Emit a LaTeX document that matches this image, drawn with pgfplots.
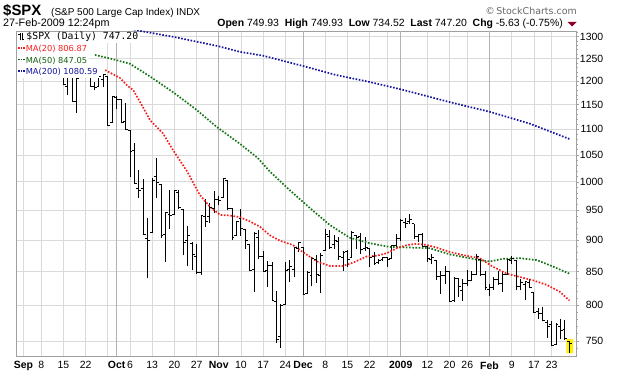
\documentclass[border=0pt]{standalone}
\usepackage{pgfplots}
\pgfplotsset{compat=1.18}
\usepackage{pgfplotstable}
\usepackage{fontspec}
\setmainfont{Liberation Sans}
\newfontfamily\legfont{DejaVu Sans}
\newfontfamily\legmono{DejaVu Sans Mono}

\definecolor{gridc}{RGB}{218,218,218}
\definecolor{monthc}{RGB}{178,178,178}
\definecolor{framec}{RGB}{160,160,160}
\definecolor{ma20}{RGB}{245,30,30}
\definecolor{ma50}{RGB}{20,115,20}
\definecolor{ma200}{RGB}{20,20,160}
\definecolor{chgc}{RGB}{140,0,40}
\definecolor{hl}{RGB}{255,240,0}

\pgfdeclareplotmark{otick}{\pgfpathmoveto{\pgfpoint{-2.4bp}{0bp}}\pgfpathlineto{\pgfpoint{0.45bp}{0bp}}\pgfusepathqstroke}
\pgfdeclareplotmark{ctick}{\pgfpathmoveto{\pgfpoint{-0.45bp}{0bp}}\pgfpathlineto{\pgfpoint{2.4bp}{0bp}}\pgfusepathqstroke}

% day index: 0 = 2 Sep 2008 ... 123 = 27 Feb 2009
\pgfplotstableread{
d o h l c
0 1287.83 1303.04 1272.20 1277.58
1 1276.61 1280.60 1265.59 1274.98
2 1271.80 1271.80 1232.83 1236.83
3 1233.21 1244.94 1217.23 1242.31
4 1249.50 1274.42 1247.12 1267.79
5 1267.98 1268.66 1224.51 1224.51
6 1227.50 1243.90 1221.60 1232.04
7 1229.04 1249.98 1211.54 1249.05
8 1245.88 1255.09 1233.81 1251.70
9 1250.92 1250.92 1192.70 1192.70
10 1188.31 1214.84 1169.28 1213.60
11 1210.34 1210.34 1155.88 1156.39
12 1157.08 1211.14 1133.50 1206.51
13 1213.11 1265.12 1213.11 1255.08
14 1255.37 1255.37 1205.61 1207.09
15 1207.61 1214.76 1187.22 1188.22
16 1188.79 1197.41 1179.79 1185.87
17 1187.87 1220.03 1187.87 1209.18
18 1204.47 1215.77 1187.54 1213.27
19 1209.07 1209.07 1106.42 1106.42
20 1113.78 1168.03 1113.78 1166.36
21 1164.17 1167.03 1140.77 1161.06
22 1160.64 1160.64 1111.43 1114.28
23 1115.16 1153.82 1098.14 1099.23
24 1097.56 1097.56 1007.97 1056.89
25 1057.60 1072.91 996.23 996.23
26 988.91 1021.06 970.97 984.94
27 988.42 1005.25 909.19 909.92
28 902.31 936.36 839.80 899.22
29 912.75 1006.93 912.75 1003.35
30 1009.97 1044.31 972.07 998.01
31 994.60 994.60 903.99 907.84
32 909.53 947.71 865.83 946.43
33 942.29 984.64 918.74 940.55
34 943.51 985.40 943.51 985.40
35 980.40 985.44 952.47 955.05
36 951.67 951.67 875.81 896.78
37 899.08 922.83 858.44 908.11
38 895.22 896.30 852.85 876.77
39 874.28 893.78 846.75 848.92
40 848.92 940.51 845.27 940.51
41 939.51 969.97 922.26 930.09
42 939.38 963.23 928.50 954.09
43 953.11 984.38 944.59 968.75
44 968.67 975.57 958.82 966.30
45 971.31 1007.51 971.31 1005.75
46 1001.84 1001.84 949.86 952.77
47 952.40 952.40 899.73 904.88
48 907.44 931.46 906.90 930.99
49 936.75 951.95 907.47 919.21
50 917.15 917.15 884.90 898.95
51 893.39 893.39 850.48 852.30
52 853.13 913.01 818.69 911.29
53 904.36 916.88 869.88 873.29
54 873.23 882.29 848.98 850.75
55 852.34 865.90 826.84 859.12
56 859.03 864.57 806.18 806.58
57 805.87 820.52 747.78 752.44
58 755.84 801.20 741.02 800.03
59 801.20 865.60 801.20 851.81
60 853.40 868.94 834.99 857.39
61 852.90 887.68 841.37 887.68
62 886.89 896.25 881.21 896.24
63 888.61 888.61 815.69 816.21
64 817.94 850.54 817.94 848.81
65 843.60 873.12 827.60 870.74
66 869.75 875.60 833.60 845.22
67 844.43 879.42 818.41 876.07
68 882.71 918.57 882.71 909.70
69 906.48 916.26 885.38 888.67
70 892.17 908.27 885.45 899.24
71 898.35 904.63 868.73 873.59
72 871.79 883.24 851.35 879.73
73 881.07 884.63 857.72 868.57
74 871.53 914.66 871.53 913.18
75 908.16 908.16 885.44 904.42
76 905.98 911.02 877.44 885.28
77 886.96 905.47 883.02 887.88
78 887.20 887.37 857.09 871.63
79 874.31 880.44 860.10 863.16
80 863.87 869.79 861.44 868.15
81 869.51 873.74 866.52 872.80
82 872.37 873.70 857.07 869.42
83 870.58 891.12 870.58 890.64
84 890.59 910.32 889.67 903.25
85 902.99 934.73 899.35 931.80
86 929.17 936.63 919.53 927.45
87 931.17 943.85 927.28 934.70
88 927.45 927.45 902.37 906.65
89 905.73 910.00 896.81 909.73
90 909.91 911.93 888.31 890.35
91 890.40 890.40 864.32 870.26
92 869.79 877.02 862.02 871.79
93 867.28 867.28 836.93 842.62
94 841.99 851.59 817.04 843.74
95 844.45 858.13 830.66 850.12
96 849.64 849.64 804.47 805.22
97 806.77 841.72 804.30 840.24
98 839.74 839.74 811.29 827.50
99 822.16 838.61 806.07 831.95
100 832.50 852.53 827.69 836.57
101 837.30 850.45 835.40 845.71
102 845.73 877.86 845.73 874.09
103 868.89 868.89 844.15 845.14
104 845.69 851.66 821.67 825.88
105 823.09 830.78 812.87 825.44
106 825.69 842.60 821.98 838.51
107 837.77 851.85 829.18 832.23
108 831.75 850.55 819.91 845.85
109 846.09 870.75 845.42 868.60
110 868.24 875.01 861.65 869.89
111 866.87 868.05 822.99 827.16
112 827.41 838.22 822.30 833.74
113 829.91 835.48 808.06 835.19
114 833.95 839.43 825.21 826.84
115 818.61 818.61 789.17 789.17
116 791.06 796.17 780.43 788.42
117 787.91 797.58 777.03 778.94
118 775.87 778.69 754.25 770.05
119 773.25 777.52 743.33 743.33
120 744.69 775.49 744.69 773.14
121 770.64 780.12 752.89 764.90
122 765.76 779.42 751.75 752.83
123 749.93 749.93 734.52 747.20
}\ohlc

\pgfplotstableread{
d v
18.4 1224
21.7 1207
23.5 1189
24.7 1181
26.9 1145
28.5 1118
31.4 1092
33.7 1059
36.8 1020
39.7 977
42.0 956
44.3 942
46.5 941
48.8 938
51.0 931
53.3 922
55.5 908
57.8 899
60.7 892
62.9 881
66.1 866
69.0 859
72.0 859
74.2 864
77.4 874
79.6 875
81.9 879
84.1 887
86.4 892
88.6 894
90.9 892
93.1 888
96.0 881
99.0 876
102.8 871
105.7 858
108.9 847
111.8 842
114.8 837
117.9 830
120.8 820
123 806.87
}\maA

\pgfplotstableread{
d v
16.1 1258
19.5 1250
24.0 1238
28.5 1210
33.7 1176
38.6 1142
43.6 1104
48.8 1071
52.8 1044
55.5 1019
60.0 985
64.5 954
69.0 925
73.5 904
78.0 895
82.5 889
87.0 888
91.5 887
96.1 877
98.3 874
102.8 868
105.1 866
108.0 870
111.8 871
115.7 868
119.3 858
123 847.05
}\maB

\pgfplotstableread{
d v
20 1330
26.2 1314
33.7 1300
43.5 1279
48.8 1265
54.1 1256
63.0 1233
70.5 1213
78.0 1198
85.5 1181
96.1 1155
105.1 1135
114.1 1111
123 1080.59
}\maC

\newcommand\dotsmark{\rule[2.6bp]{1.5bp}{1.5bp}\hspace{0.9bp}\rule[2.6bp]{1.5bp}{1.5bp}\hspace{0.9bp}\rule[2.6bp]{1.5bp}{1.5bp}\hspace{1.2bp}}
\newcommand\ohlcicon{\rule[5.2bp]{1.6bp}{0.7bp}\rule[-0.5bp]{0.7bp}{7.5bp}\hspace{1.6bp}\rule[-0.5bp]{0.7bp}{7.5bp}\rule[0.6bp]{1.6bp}{0.7bp}\hspace{2bp}}

\begin{document}
\begin{tikzpicture}[x=1bp,y=1bp]
\path[use as bounding box] (0,0) rectangle (620,376);

\begin{axis}[
  at={(16bp,20bp)}, anchor=south west,
  width=560bp, height=325bp, scale only axis,
  xmin=-1.69, xmax=124.5,
  ymode=log, ymin=729.9, ymax=1313.8,
  axis line style={draw=framec, line width=0.7bp},
  ytick={750,800,850,900,950,1000,1050,1100,1150,1200,1250,1300},
  yticklabels={750,800,850,900,950,1000,1050,1100,1150,1200,1250,1300},
  minor ytick={740,760,770,780,790,810,820,830,840,860,870,880,890,910,920,930,940,960,970,980,990,1010,1020,1030,1040,1060,1070,1080,1090,1110,1120,1130,1140,1160,1170,1180,1190,1210,1220,1230,1240,1260,1270,1280,1290,1310},
  yticklabel pos=right, ytick pos=right,
  tick align=outside,
  major tick length=3bp, minor tick length=1.8bp,
  ytick style={draw=framec, line width=0.6bp},
  xtick style={draw=none},
  ymajorgrids, xmajorgrids,
  major grid style={draw=gridc, line width=0.7bp},
  xtick={0,4,9,14,19,21,24,29,34,39,44,49,54,59,63,68,73,78,82,85,91,96,100,105,110,115,119},
  xticklabels={\textbf{Sep},8,15,22,{},\textbf{Oct},6,13,20,27,\textbf{Nov},10,17,24,\textbf{Dec},8,15,22,{},\textbf{2009},12,20,26,\textbf{Feb},9,17,23},
  extra x ticks={21,44,63,85,105},
  extra x tick labels={},
  extra x tick style={grid=major, major grid style={draw=monthc, line width=0.7bp}},
  /pgf/number format/assume math mode=true,
  ticklabel style={font=\fontsize{10.5}{12}\selectfont},
  yticklabel style={text width=24bp, align=right, inner xsep=0pt},
  xticklabel style={inner sep=2.5bp},
]

% highlight of the latest bar
\addplot[fill=hl, draw=none, forget plot] coordinates {(122.35,733.4) (123.85,733.4) (123.85,752.4) (122.35,752.4) (122.35,733.4)};

% high-low lines of the OHLC bars
\pgfplotsforeachungrouped \i in {0,...,123}{%
  \pgfplotstablegetelem{\i}{d}\of\ohlc \let\vd\pgfplotsretval
  \pgfplotstablegetelem{\i}{h}\of\ohlc \let\vhi\pgfplotsretval
  \pgfplotstablegetelem{\i}{l}\of\ohlc \let\vlo\pgfplotsretval
  \edef\tmp{\noexpand\addplot[black, line width=0.95bp, forget plot] coordinates {(\vd,\vlo) (\vd,\vhi)};}%
  \tmp
}
% open and close ticks
\addplot[black, only marks, mark=otick, mark options={line width=0.95bp}, forget plot] table[x=d, y=o] {\ohlc};
\addplot[black, only marks, mark=ctick, mark options={line width=0.95bp}, forget plot] table[x=d, y=c] {\ohlc};

% moving averages
\addplot[ma200, line width=1.7bp, dash pattern=on 1.6bp off 1.6bp, forget plot] table[x=d, y=v] {\maC};
\addplot[ma50, line width=1.7bp, dash pattern=on 1.6bp off 1.6bp, forget plot] table[x=d, y=v] {\maB};
\addplot[ma20, line width=1.7bp, dash pattern=on 1.6bp off 1.6bp, forget plot] table[x=d, y=v] {\maA};
\end{axis}

% legend (drawn over the plot, white background per row)
\begin{scope}[every node/.style={anchor=north west, fill=white, inner xsep=1.5bp, inner ysep=0pt, text height=8.2bp, text depth=3.3bp, font=\legfont\fontsize{8.3}{10}\selectfont}]
\node[font=\legmono\fontsize{9.8}{11}\selectfont] at (16.6,344.4) {\ohlcicon\$SPX (Daily) 747.20};
\node[text=ma20] at (16.6,332.9) {\dotsmark MA(20) 806.87};
\node[text=ma50!85!black] at (16.6,321.4) {\dotsmark MA(50) 847.05};
\node[text=ma200] at (16.6,309.9) {\dotsmark MA(200) 1080.59};
\end{scope}

% header
\node[anchor=base west, inner sep=0pt, font=\bfseries\fontsize{15}{16}\selectfont] at (3,361) {\$SPX};
\node[anchor=base west, inner sep=0pt, font=\fontsize{10}{12}\selectfont] at (51,361) {(S\&P 500 Large Cap Index) INDX};
\node[anchor=base west, inner sep=0pt, font=\fontsize{10.8}{12}\selectfont] at (3,349.5) {27-Feb-2009 12:24pm};
\node[anchor=base east, inner sep=0pt, font=\fontsize{10.5}{12}\selectfont] at (563,349.5) {\textbf{Open} 749.93\ \ \textbf{High} 749.93\ \ \textbf{Low} 734.52\ \ \textbf{Last} 747.20\ \ \textbf{Chg} -5.63 (-0.75\%)};
\fill[chgc] (567.5,354) -- (576.5,354) -- (572,349.5) -- cycle;
\node[anchor=base east, inner sep=0pt, text=black!60, font=\legfont\fontsize{9.5}{11}\selectfont] at (577,362) {\textcopyright\,StockCharts.com};
\end{tikzpicture}
\end{document}
